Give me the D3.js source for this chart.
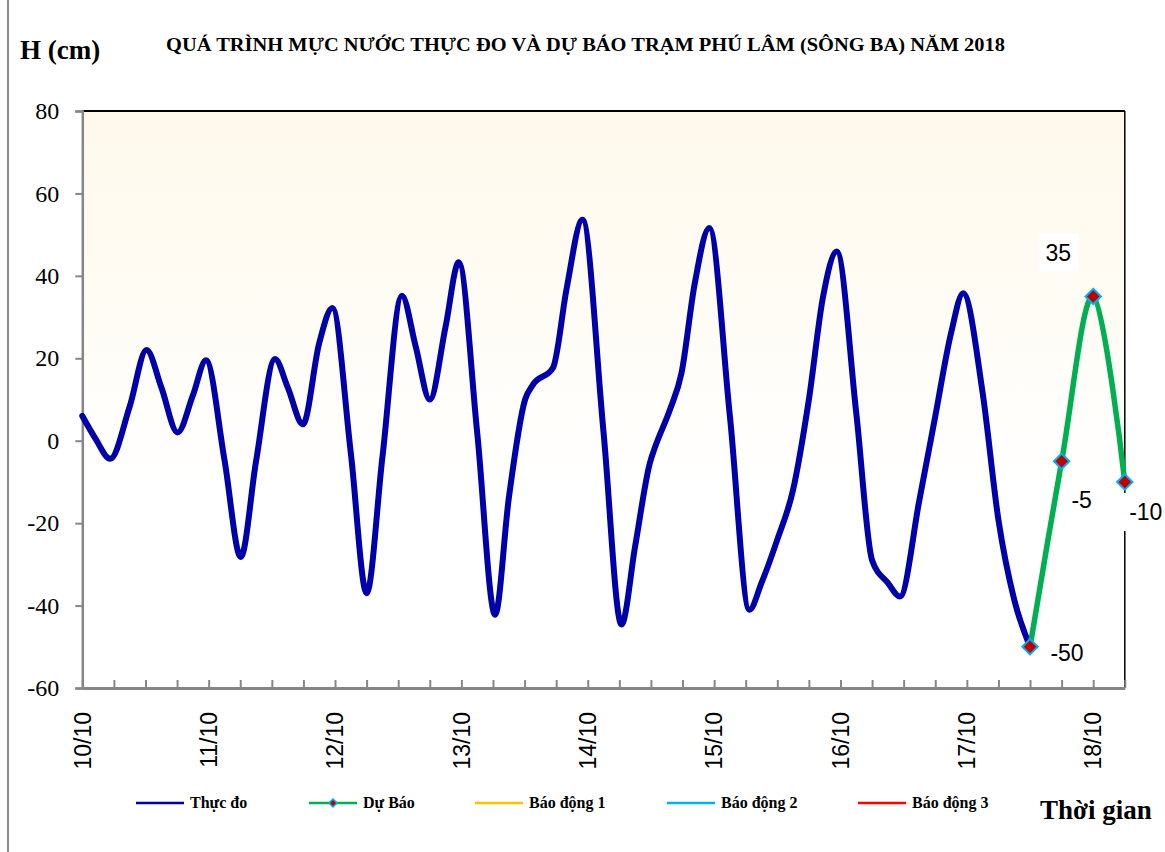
<!DOCTYPE html>
<html>
<head>
<meta charset="utf-8">
<script src="https://cdn.jsdelivr.net/npm/d3@7"></script>
<style>
  html, body { margin: 0; padding: 0; background: #ffffff; }
  svg { display: block; }
</style>
</head>
<body>
<script>
// ---------------- DATA ----------------
const chartTitle = "QUÁ TRÌNH MỰC NƯỚC THỰC ĐO VÀ DỰ BÁO TRẠM  PHÚ LÂM (SÔNG BA) NĂM  2018";
const yAxisTitle = "H (cm)";
const xAxisTitle = "Thời gian";

const obsHours = [
  0, 2.5, 5.3, 9, 12.2, 15, 18.1, 21, 23.5, 27,
  30.1, 33, 36.6, 39, 41.9, 45, 47.5, 51, 54, 57,
  60.7, 63.3, 66, 69, 71.5, 75, 78.4, 81, 84.1, 85.6,
  89.4, 92, 95, 99, 102.4, 105, 107.8, 108.8, 111.6, 113.8,
  116.3, 119.1, 123, 126.7, 129, 132, 135, 138, 140.7, 143.3,
  147, 150, 153, 155.3, 159, 162, 165, 167.3, 171, 174,
  177, 180
];
const obsValues = [
  6, 0.5, -4.4, 8.3, 22, 13, 2, 11, 19.5, -4.6,
  -28.2, -5, 19.8, 13, 4, 23.7, 32.2, -3, -37, -4,
  35.2, 23, 10, 27.7, 43.3, 2, -42.2, -14, 10, 13.6,
  17.7, 37, 53.6, 2, -44.6, -25.6, -5.4, -1.5, 7.5, 16.4,
  38, 51.6, 5.9, -41, -34.5, -24, -11.9, 10, 35, 45.9,
  6.7, -29, -34.5, -37.8, -14.3, 5.9, 26.1, 35.8, 11.6, -19.2,
  -38.6, -50
];
// forecast (hours after 10/10 00h, value cm)
const forecastHours = [180, 186, 192, 198];
const forecastValues = [-50, -5, 35, -10];

const yTicks = [-60, -40, -20, 0, 20, 40, 60, 80];
const dayLabels = ["10/10", "11/10", "12/10", "13/10", "14/10", "15/10", "16/10", "17/10", "18/10"];
const dayHours = [0, 24, 48, 72, 96, 120, 144, 168, 192];
const xDomainHours = [0, 198];
const xTickStepHours = 6;

const legendNames = ["Thực đo", "Dự Báo", "Báo động 1", "Báo động 2", "Báo động 3"];
const legendColors = ["#0000aa", "#00b050", "#ffc000", "#00b0f0", "#ff0000"];

// ---------------- LAYOUT / STYLE ----------------
const W = 1165, H = 852;
const plot = { left: 82.3, right: 1124.8, top: 111, bottom: 688 };
const labelOffsets = [[37, 6], [20, 38], [-35, -44], [21, 30]];
const legendLineX = [136, 309, 475, 667, 858];
const SERIF = "'Liberation Serif', 'Times New Roman', serif";
const SANS = "'Liberation Sans', Arial, sans-serif";
const fmt = v => String(v); // plain hyphen minus, as in the original

const svg = d3.select("body").append("svg")
  .attr("width", W).attr("height", H)
  .attr("font-family", SERIF);

svg.append("rect").attr("width", W).attr("height", H).attr("fill", "#ffffff");
// outer frame (left edge visible)
svg.append("line").attr("x1", 8).attr("x2", 8).attr("y1", 0).attr("y2", H)
  .attr("stroke", "#8c8c8c").attr("stroke-width", 2);

const x = d3.scaleLinear().domain(xDomainHours).range([plot.left, plot.right]);
const y = d3.scaleLinear().domain([-60, 80]).range([plot.bottom, plot.top]);

// plot background gradient
const defs = svg.append("defs");
const grad = defs.append("linearGradient").attr("id", "bg").attr("x1", 0).attr("y1", 0).attr("x2", 0).attr("y2", 1);
grad.append("stop").attr("offset", "0%").attr("stop-color", "#fff9ec");
grad.append("stop").attr("offset", "35%").attr("stop-color", "#fffcf5");
grad.append("stop").attr("offset", "65%").attr("stop-color", "#ffffff");
grad.append("stop").attr("offset", "100%").attr("stop-color", "#ffffff");
svg.append("rect")
  .attr("x", plot.left).attr("y", plot.top)
  .attr("width", plot.right - plot.left).attr("height", plot.bottom - plot.top)
  .attr("fill", "url(#bg)");

// top & right borders
svg.append("line").attr("x1", plot.left).attr("x2", plot.right).attr("y1", plot.top).attr("y2", plot.top)
  .attr("stroke", "#000").attr("stroke-width", 2);
svg.append("line").attr("x1", plot.right).attr("x2", plot.right).attr("y1", plot.top).attr("y2", plot.bottom)
  .attr("stroke", "#000").attr("stroke-width", 1.5);

// Y axis
const yAxis = svg.append("g").attr("transform", `translate(${plot.left},0)`)
  .call(d3.axisLeft(y).tickValues(yTicks).tickSize(7).tickPadding(16).tickFormat(fmt))
  .attr("font-family", SERIF).attr("font-size", 24);
yAxis.select(".domain").attr("stroke", "#868686").attr("stroke-width", 2.5);
yAxis.selectAll(".tick line").attr("stroke", "#868686").attr("stroke-width", 2);
yAxis.selectAll(".tick text").attr("fill", "#000")
  .style("font-family", SERIF).style("font-size", "24px");

// X axis
const xTickVals = d3.range(xDomainHours[0], xDomainHours[1] + 0.1, xTickStepHours);
const xAxis = svg.append("g").attr("transform", `translate(0,${plot.bottom})`)
  .call(d3.axisBottom(x).tickValues(xTickVals).tickSizeInner(-8).tickSizeOuter(0).tickFormat(""));
xAxis.select(".domain").attr("stroke", "#868686").attr("stroke-width", 3);
xAxis.selectAll(".tick line").attr("stroke", "#868686").attr("stroke-width", 2);

// Day labels (rotated)
svg.append("g").selectAll("text").data(dayLabels).join("text")
  .attr("transform", (d, i) => `translate(${x(dayHours[i])},712) rotate(-90)`)
  .attr("text-anchor", "end")
  .attr("dy", "0.36em")
  .attr("font-family", SANS)
  .attr("font-size", 23)
  .attr("fill", "#000")
  .text(d => d);

// Observed line
const obsPts = obsHours.map((h, i) => [h, obsValues[i]]);
const line = d3.line().x(d => x(d[0])).y(d => y(d[1])).curve(d3.curveMonotoneX);
svg.append("path").datum(obsPts)
  .attr("d", line)
  .attr("fill", "none")
  .attr("stroke", legendColors[0])
  .attr("stroke-width", 6)
  .attr("stroke-linejoin", "round")
  .attr("stroke-linecap", "round");

// Forecast line
const fcPts = forecastHours.map((h, i) => [h, forecastValues[i]]);
const fcLine = d3.line().x(d => x(d[0])).y(d => y(d[1])).curve(d3.curveCardinal.tension(0));
svg.append("path").datum(fcPts)
  .attr("d", fcLine)
  .attr("fill", "none")
  .attr("stroke", legendColors[1])
  .attr("stroke-width", 5.5)
  .attr("stroke-linejoin", "round");

// markers
const diamond = d3.symbol().type(d3.symbolDiamond2).size(150);
svg.append("g").selectAll("path").data(fcPts).join("path")
  .attr("transform", d => `translate(${x(d[0])},${y(d[1])})`)
  .attr("d", diamond)
  .attr("fill", "#c00000")
  .attr("stroke", "#00b0f0")
  .attr("stroke-width", 2);

// data labels with white boxes
const lblG = svg.append("g");
fcPts.forEach((d, i) => {
  const cx = x(d[0]) + labelOffsets[i][0];
  const cy = y(d[1]) + labelOffsets[i][1];
  const rect = lblG.append("rect").attr("fill", "#ffffff");
  const t = lblG.append("text")
    .attr("x", cx).attr("y", cy).attr("dy", "0.36em")
    .attr("text-anchor", "middle")
    .attr("font-family", SANS)
    .attr("font-size", 23)
    .attr("fill", "#000")
    .text(fmt(d[1]));
  const bb = t.node().getBBox();
  rect.attr("x", bb.x - 7).attr("y", cy - 19).attr("width", bb.width + 14).attr("height", 38);
});

// Title
svg.append("text")
  .attr("x", 166).attr("y", 51)
  .attr("textLength", 839).attr("lengthAdjust", "spacingAndGlyphs")
  .attr("font-size", 18).attr("font-weight", "bold")
  .attr("fill", "#000")
  .text(chartTitle);

svg.append("text")
  .attr("x", 20).attr("y", 59)
  .attr("font-size", 27).attr("font-weight", "bold")
  .attr("fill", "#000")
  .text(yAxisTitle);

svg.append("text")
  .attr("x", 1040).attr("y", 819)
  .attr("font-size", 27).attr("font-weight", "bold")
  .attr("fill", "#000")
  .text(xAxisTitle);

// Legend
const lg = svg.append("g");
legendNames.forEach((name, i) => {
  const lx = legendLineX[i];
  lg.append("line").attr("x1", lx).attr("x2", lx + 48).attr("y1", 803).attr("y2", 803)
    .attr("stroke", legendColors[i]).attr("stroke-width", 2.5);
  if (i === 1) {
    lg.append("path").attr("transform", `translate(${lx + 24},803)`)
      .attr("d", d3.symbol().type(d3.symbolDiamond2).size(40))
      .attr("fill", "#c00000").attr("stroke", "#00b0f0").attr("stroke-width", 1.5);
  }
  lg.append("text").attr("x", lx + 54).attr("y", 808)
    .attr("font-size", 16).attr("font-weight", "bold")
    .attr("fill", "#000")
    .text(name);
});
</script>
</body>
</html>
